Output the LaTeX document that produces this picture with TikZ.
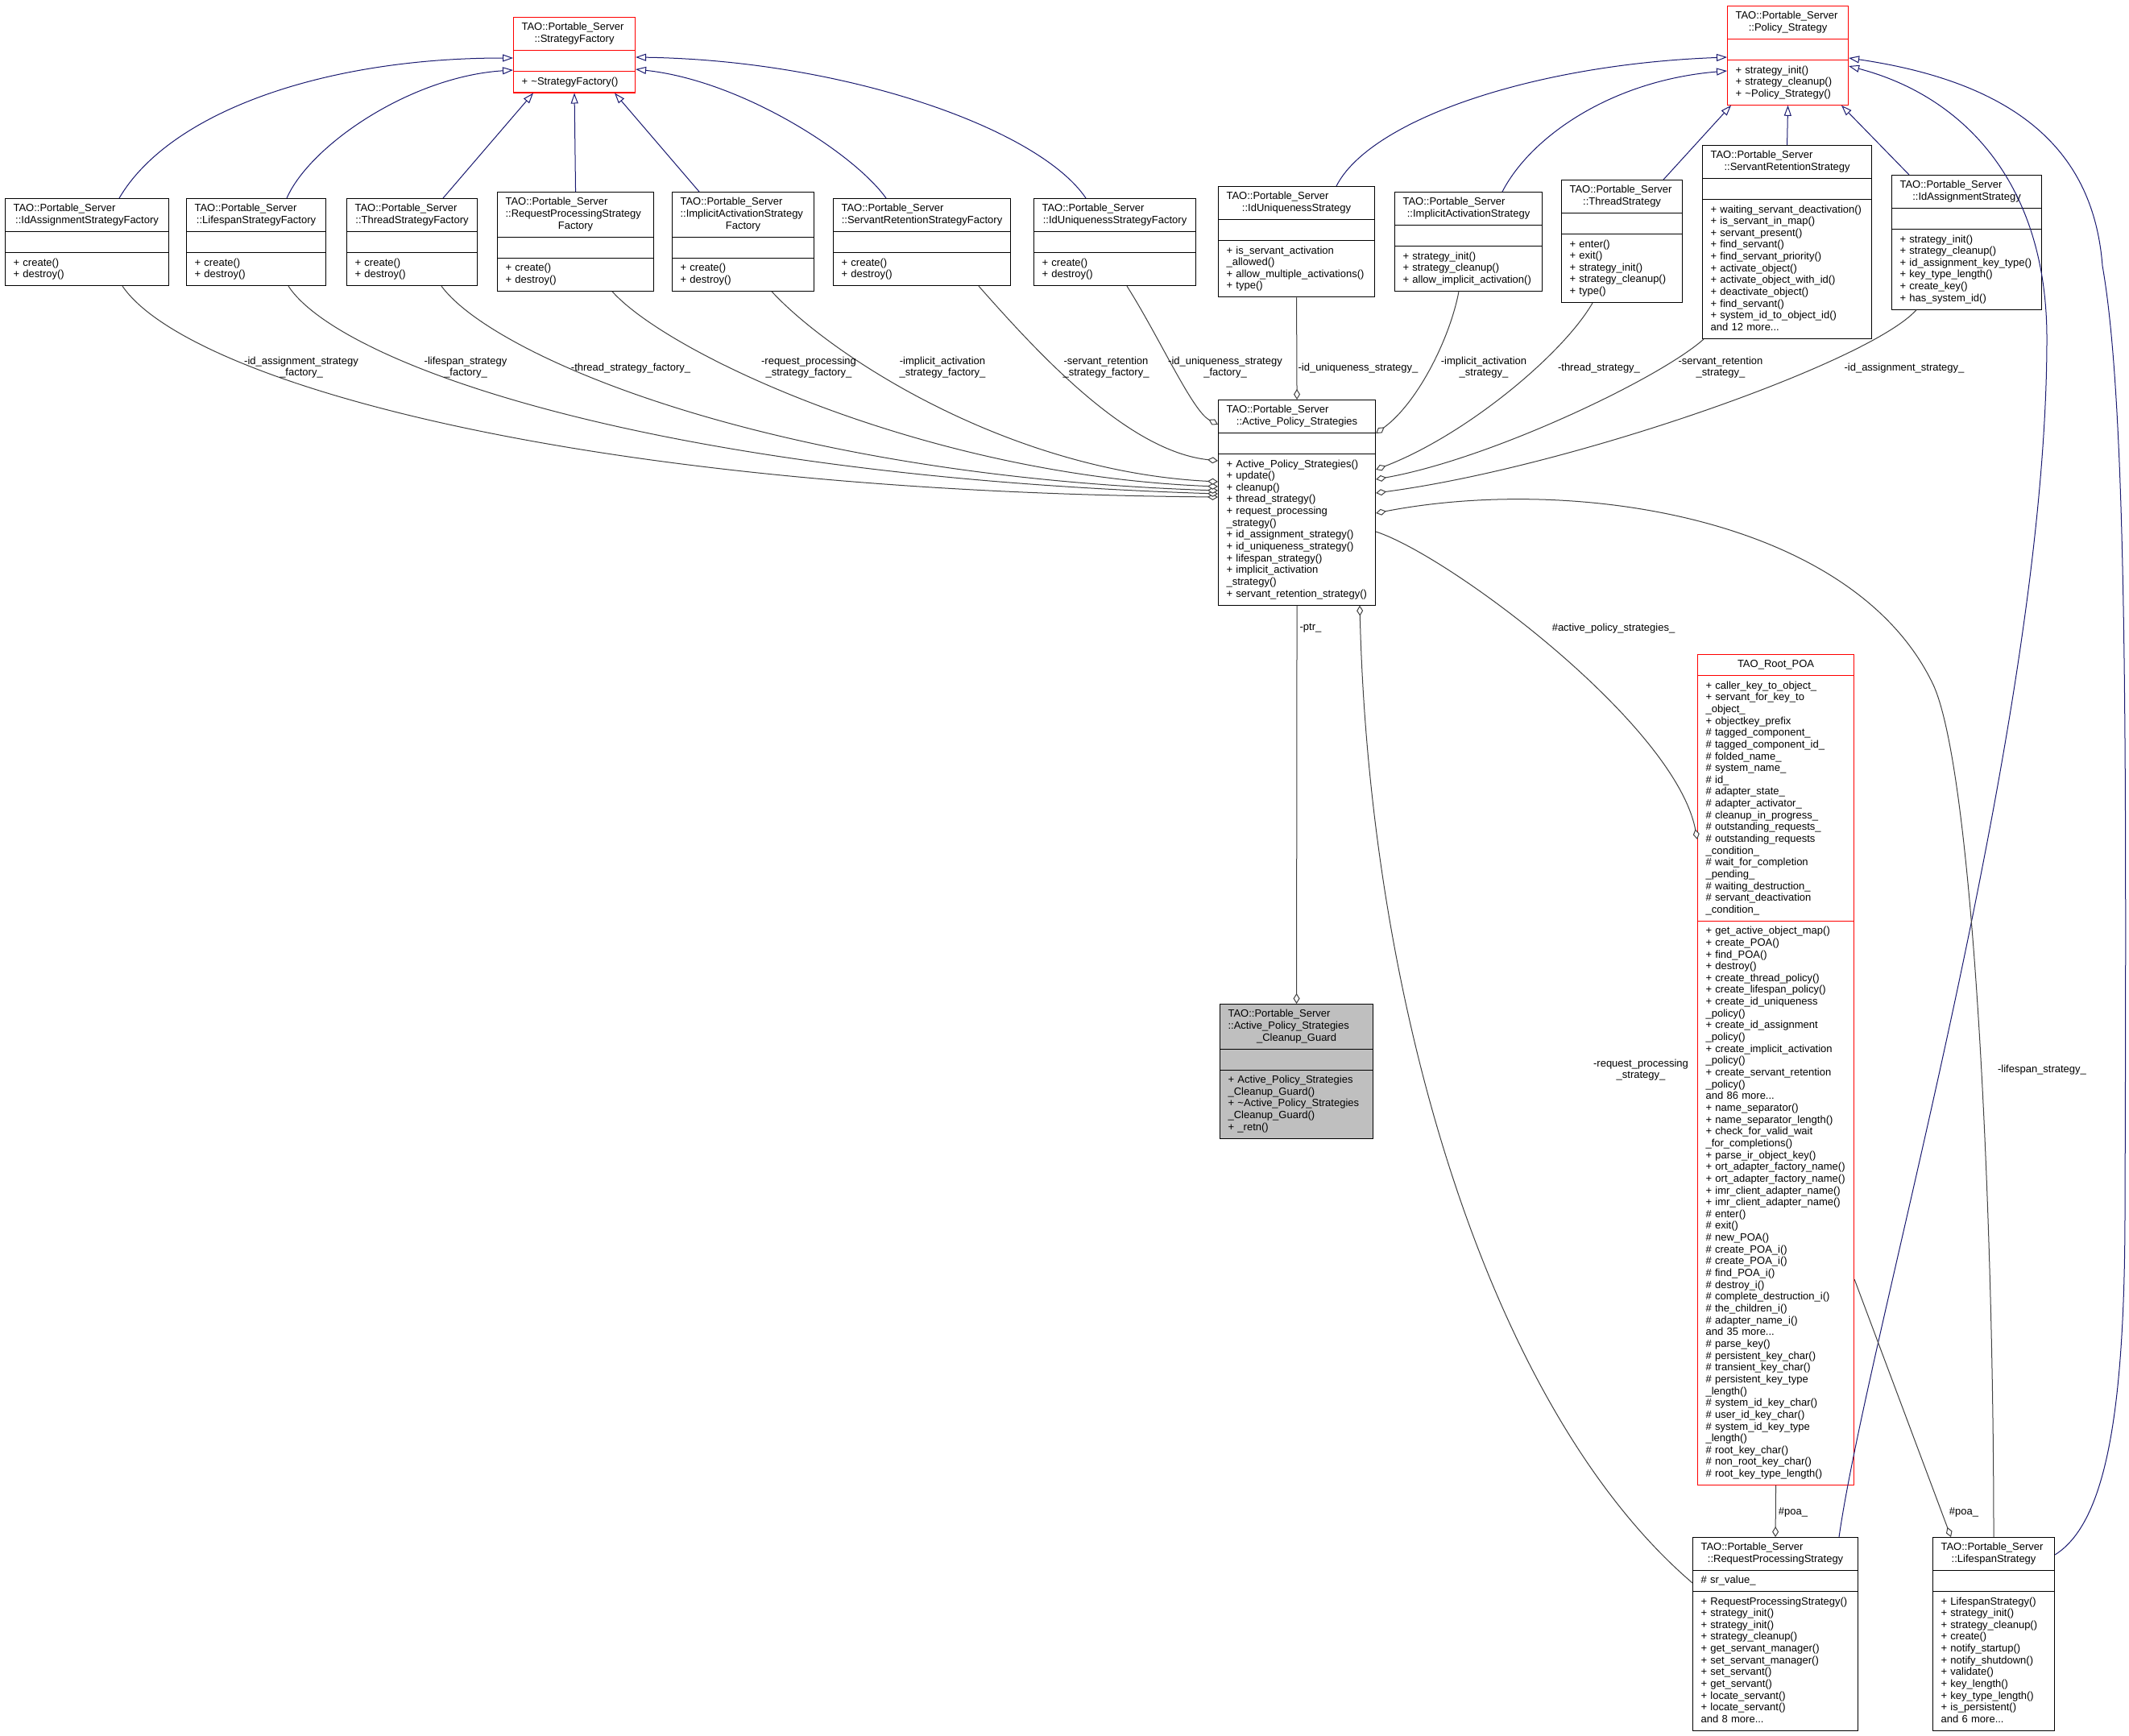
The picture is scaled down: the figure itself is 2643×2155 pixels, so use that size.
\documentclass[tikz,border=0pt]{standalone}
\usepackage{fontspec}
\setmainfont{Liberation Sans}
\usetikzlibrary{
  shapes.multipart,
  arrows.meta,
  calc,
}
\definecolor{edgegray}{HTML}{404040}
\definecolor{midblue}{HTML}{191970}
\definecolor{guardfill}{HTML}{BFBFBF}
\newcommand\clsbeg{\rightskip=0pt plus 1fil minus 100pt\relax\rule[-4.15pt]{0pt}{14.65pt}}
\newcommand\clsend{\rule[-4.15pt]{0pt}{14.65pt}}
\newcommand\lastline[1]{\hspace*{\fill}#1\hspace*{\fill}}
\tikzstyle{classbox} = [
rectangle split,
rectangle split parts=3,
draw=black,
line width=1.1pt,
inner xsep=10pt,
inner ysep=5.25pt,
align=left,
anchor=north west
]
\tikzstyle{redbox} = [classbox, draw=red]
\tikzstyle{edgelabel} = [align=center, inner sep=0pt]
\tikzstyle{inherit} = [draw=midblue, line width=1pt, -{Triangle[length=13pt,width=9pt,fill=white]}]
\tikzstyle{member} = [draw=edgegray, line width=1pt, -{Diamond[length=13pt,width=8pt,fill=white]}]

\begin{document}
\begin{tikzpicture}[x=1pt, y=-1pt, font=\fontsize{13}{14.65}\selectfont]
  \path [use as bounding box, fill=white] (0,0) rectangle (2643,2155);
  % Place nodes
  \node [redbox, text width=131pt] (sfac) at (637,21) {\clsbeg TAO::Portable\_Server\\\lastline{::StrategyFactory}\clsend
    \nodepart{two}\clsbeg\clsend
    \nodepart{three}\clsbeg + \textasciitilde StrategyFactory()\clsend};
  \node [redbox, text width=130pt] (pstrat) at (2144,7) {\clsbeg TAO::Portable\_Server\\\lastline{::Policy\_Strategy}\clsend
    \nodepart{two}\clsbeg\clsend
    \nodepart{three}\clsbeg + strategy\_init()\\+ strategy\_cleanup()\\+ \textasciitilde Policy\_Strategy()\clsend};

  \node [classbox, text width=183pt] (idafac) at (6,246) {\clsbeg TAO::Portable\_Server\\\lastline{::IdAssignmentStrategyFactory}\clsend
    \nodepart{two}\clsbeg\clsend
    \nodepart{three}\clsbeg + create()\\+ destroy()\clsend};
  \node [classbox, text width=153pt] (lsfac) at (231,246) {\clsbeg TAO::Portable\_Server\\\lastline{::LifespanStrategyFactory}\clsend
    \nodepart{two}\clsbeg\clsend
    \nodepart{three}\clsbeg + create()\\+ destroy()\clsend};
  \node [classbox, text width=142pt] (thfac) at (430,246) {\clsbeg TAO::Portable\_Server\\\lastline{::ThreadStrategyFactory}\clsend
    \nodepart{two}\clsbeg\clsend
    \nodepart{three}\clsbeg + create()\\+ destroy()\clsend};
  \node [classbox, text width=174pt] (rpfac) at (617,238) {\clsbeg TAO::Portable\_Server\\::RequestProcessingStrategy\\\lastline{Factory}\clsend
    \nodepart{two}\clsbeg\clsend
    \nodepart{three}\clsbeg + create()\\+ destroy()\clsend};
  \node [classbox, text width=156pt] (iafac) at (834,238) {\clsbeg TAO::Portable\_Server\\::ImplicitActivationStrategy\\\lastline{Factory}\clsend
    \nodepart{two}\clsbeg\clsend
    \nodepart{three}\clsbeg + create()\\+ destroy()\clsend};
  \node [classbox, text width=200pt] (srfac) at (1034,246) {\clsbeg TAO::Portable\_Server\\\lastline{::ServantRetentionStrategyFactory}\clsend
    \nodepart{two}\clsbeg\clsend
    \nodepart{three}\clsbeg + create()\\+ destroy()\clsend};
  \node [classbox, text width=181pt] (idufac) at (1283,246) {\clsbeg TAO::Portable\_Server\\\lastline{::IdUniquenessStrategyFactory}\clsend
    \nodepart{two}\clsbeg\clsend
    \nodepart{three}\clsbeg + create()\\+ destroy()\clsend};

  \node [classbox, text width=174pt] (idustrat) at (1512,231) {\clsbeg TAO::Portable\_Server\\\lastline{::IdUniquenessStrategy}\clsend
    \nodepart{two}\clsbeg\clsend
    \nodepart{three}\clsbeg + is\_servant\_activation\\\_allowed()\\+ allow\_multiple\_activations()\\+ type()\clsend};
  \node [classbox, text width=163pt] (iastrat) at (1731,238) {\clsbeg TAO::Portable\_Server\\\lastline{::ImplicitActivationStrategy}\clsend
    \nodepart{two}\clsbeg\clsend
    \nodepart{three}\clsbeg + strategy\_init()\\+ strategy\_cleanup()\\+ allow\_implicit\_activation()\clsend};
  \node [classbox, text width=130pt] (thstrat) at (1938,223) {\clsbeg TAO::Portable\_Server\\\lastline{::ThreadStrategy}\clsend
    \nodepart{two}\clsbeg\clsend
    \nodepart{three}\clsbeg + enter()\\+ exit()\\+ strategy\_init()\\+ strategy\_cleanup()\\+ type()\clsend};
  \node [classbox, text width=190pt] (srstrat) at (2113,180) {\clsbeg TAO::Portable\_Server\\\lastline{::ServantRetentionStrategy}\clsend
    \nodepart{two}\clsbeg\clsend
    \nodepart{three}\clsbeg + waiting\_servant\_deactivation()\\+ is\_servant\_in\_map()\\+ servant\_present()\\+ find\_servant()\\+ find\_servant\_priority()\\+ activate\_object()\\+ activate\_object\_with\_id()\\+ deactivate\_object()\\+ find\_servant()\\+ system\_id\_to\_object\_id()\\and 12 more...\clsend};
  \node [classbox, text width=166pt] (idastrat) at (2348,217) {\clsbeg TAO::Portable\_Server\\\lastline{::IdAssignmentStrategy}\clsend
    \nodepart{two}\clsbeg\clsend
    \nodepart{three}\clsbeg + strategy\_init()\\+ strategy\_cleanup()\\+ id\_assignment\_key\_type()\\+ key\_type\_length()\\+ create\_key()\\+ has\_system\_id()\clsend};

  \node [classbox, text width=175pt] (aps) at (1512,496) {\clsbeg TAO::Portable\_Server\\\lastline{::Active\_Policy\_Strategies}\clsend
    \nodepart{two}\clsbeg\clsend
    \nodepart{three}\clsbeg + Active\_Policy\_Strategies()\\+ update()\\+ cleanup()\\+ thread\_strategy()\\+ request\_processing\\\_strategy()\\+ id\_assignment\_strategy()\\+ id\_uniqueness\_strategy()\\+ lifespan\_strategy()\\+ implicit\_activation\\\_strategy()\\+ servant\_retention\_strategy()\clsend};
  \node [classbox, fill=guardfill, text width=170pt] (guard) at (1514,1246) {\clsbeg TAO::Portable\_Server\\::Active\_Policy\_Strategies\\\lastline{\_Cleanup\_Guard}\clsend
    \nodepart{two}\clsbeg\clsend
    \nodepart{three}\clsbeg + Active\_Policy\_Strategies\\\_Cleanup\_Guard()\\+ \textasciitilde Active\_Policy\_Strategies\\\_Cleanup\_Guard()\\+ \_retn()\clsend};

  \node [redbox, text width=174pt] (rootpoa) at (2107,812) {\clsbeg\lastline{TAO\_Root\_POA}\clsend
    \nodepart{two}\clsbeg + caller\_key\_to\_object\_\\+ servant\_for\_key\_to\\\_object\_\\+ objectkey\_prefix\\\# tagged\_component\_\\\# tagged\_component\_id\_\\\# folded\_name\_\\\# system\_name\_\\\# id\_\\\# adapter\_state\_\\\# adapter\_activator\_\\\# cleanup\_in\_progress\_\\\# outstanding\_requests\_\\\# outstanding\_requests\\\_condition\_\\\# wait\_for\_completion\\\_pending\_\\\# waiting\_destruction\_\\\# servant\_deactivation\\\_condition\_\clsend
    \nodepart{three}\clsbeg + get\_active\_object\_map()\\+ create\_POA()\\+ find\_POA()\\+ destroy()\\+ create\_thread\_policy()\\+ create\_lifespan\_policy()\\+ create\_id\_uniqueness\\\_policy()\\+ create\_id\_assignment\\\_policy()\\+ create\_implicit\_activation\\\_policy()\\+ create\_servant\_retention\\\_policy()\\and 86 more...\\+ name\_separator()\\+ name\_separator\_length()\\+ check\_for\_valid\_wait\\\_for\_completions()\\+ parse\_ir\_object\_key()\\+ ort\_adapter\_factory\_name()\\+ ort\_adapter\_factory\_name()\\+ imr\_client\_adapter\_name()\\+ imr\_client\_adapter\_name()\\\# enter()\\\# exit()\\\# new\_POA()\\\# create\_POA\_i()\\\# create\_POA\_i()\\\# find\_POA\_i()\\\# destroy\_i()\\\# complete\_destruction\_i()\\\# the\_children\_i()\\\# adapter\_name\_i()\\and 35 more...\\\# parse\_key()\\\# persistent\_key\_char()\\\# transient\_key\_char()\\\# persistent\_key\_type\\\_length()\\\# system\_id\_key\_char()\\\# user\_id\_key\_char()\\\# system\_id\_key\_type\\\_length()\\\# root\_key\_char()\\\# non\_root\_key\_char()\\\# root\_key\_type\_length()\clsend};

  \node [classbox, text width=185pt] (rps) at (2101,1908) {\clsbeg TAO::Portable\_Server\\\lastline{::RequestProcessingStrategy}\clsend
    \nodepart{two}\clsbeg\# sr\_value\_\clsend
    \nodepart{three}\clsbeg + RequestProcessingStrategy()\\+ strategy\_init()\\+ strategy\_init()\\+ strategy\_cleanup()\\+ get\_servant\_manager()\\+ set\_servant\_manager()\\+ set\_servant()\\+ get\_servant()\\+ locate\_servant()\\+ locate\_servant()\\and 8 more...\clsend};
  \node [classbox, text width=131pt] (lss) at (2399,1908) {\clsbeg TAO::Portable\_Server\\\lastline{::LifespanStrategy}\clsend
    \nodepart{two}\clsbeg\clsend
    \nodepart{three}\clsbeg + LifespanStrategy()\\+ strategy\_init()\\+ strategy\_cleanup()\\+ create()\\+ notify\_startup()\\+ notify\_shutdown()\\+ validate()\\+ key\_length()\\+ key\_type\_length()\\+ is\_persistent()\\and 6 more...\clsend};

  % Draw edges
  \path [inherit] ($(idafac.north west)+(142,0)$) .. controls (210,140) and (400,72) .. ($(sfac.north west)+(0,51)$);
  \path [inherit] ($(lsfac.north west)+(125,0)$) .. controls (385,180) and (510,95) .. ($(sfac.north west)+(0,66)$);
  \path [inherit] ($(thfac.north west)+(120,0)$) -- ($(sfac.south west)+(25,0)$);
  \path [inherit] (rpfac.north) -- (sfac.south);
  \path [inherit] ($(iafac.north west)+(34,0)$) -- ($(sfac.south west)+(126,0)$);
  \path [inherit] ($(srfac.north west)+(66,0)$) .. controls (1060,190) and (920,100) .. ($(sfac.north east)+(0,65)$);
  \path [inherit] ($(idufac.north west)+(65,0)$) .. controls (1290,160) and (1050,75) .. ($(sfac.north east)+(0,50)$);

  \path [inherit] ($(idustrat.north west)+(147,0)$) .. controls (1700,150) and (1900,80) .. ($(pstrat.north west)+(0,64)$);
  \path [inherit] ($(iastrat.north west)+(134,0)$) .. controls (1900,170) and (2000,100) .. ($(pstrat.north west)+(0,81)$);
  \path [inherit] ($(thstrat.north west)+(127,0)$) -- ($(pstrat.south west)+(5,0)$);
  \path [inherit] (srstrat.north) -- (pstrat.south);
  \path [inherit] ($(idastrat.north west)+(22,0)$) -- ($(pstrat.south west)+(142,0)$);
  \path [inherit] ($(rps.north west)+(182,0)$) .. controls (2320,1650) and (2541,900) .. (2541,420)
    .. controls (2541,230) and (2440,120) .. ($(pstrat.north east)+(0,75)$);
  \path [inherit] ($(lss.north east)+(0,22)$) .. controls (2615,1890) and (2638,1750) .. (2638,1500)
    .. controls (2640,900) and (2640,500) .. (2610,330)
    .. controls (2600,200) and (2520,105) .. ($(pstrat.north east)+(0,65)$);

  \path [member] ($(idafac.south west)+(146,0)$) .. controls (230,470) and (700,610) .. ($(aps.north west)+(0,121)$);
  \path [member] ($(lsfac.south west)+(127,0)$) .. controls (420,450) and (800,590) .. ($(aps.north west)+(0,117)$);
  \path [member] ($(thfac.south west)+(118,0)$) .. controls (610,440) and (950,590) .. ($(aps.north west)+(0,113)$);
  \path [member] ($(rpfac.south west)+(143,0)$) .. controls (830,440) and (1150,590) .. ($(aps.north west)+(0,108)$);
  \path [member] ($(iafac.south west)+(124,0)$) .. controls (1030,440) and (1250,585) .. ($(aps.north west)+(0,102)$);
  \path [member] ($(srfac.south west)+(181,0)$) .. controls (1290,440) and (1400,560) .. ($(aps.north west)+(0,76)$);
  \path [member] ($(idufac.south west)+(116,0)$) .. controls (1440,420) and (1480,510) .. ($(aps.north west)+(0,31)$);

  \path [member] (idustrat.south) -- (aps.north);
  \path [member] ($(iastrat.south west)+(80,0)$) .. controls (1800,420) and (1760,500) .. ($(aps.north east)+(0,42)$);
  \path [member] ($(thstrat.south west)+(39,0)$) .. controls (1940,440) and (1820,540) .. ($(aps.north east)+(0,87)$);
  \path [member] ($(srstrat.south west)+(2,0)$) .. controls (2060,470) and (1850,570) .. ($(aps.north east)+(0,99)$);
  \path [member] ($(idastrat.south west)+(31,0)$) .. controls (2320,450) and (1950,580) .. ($(aps.north east)+(0,116)$);
  \path [member] ($(lss.north west)+(76,0)$) .. controls (2475,1500) and (2450,960) .. (2400,850)
    .. controls (2300,640) and (1950,590) .. ($(aps.north east)+(0,141)$);
  \path [member] ($(aps.north east)+(0,164)$) .. controls (1800,690) and (2080,900) .. ($(rootpoa.north west)+(0,230)$);
  \path [member] ($(rps.north west)+(0,57)$) .. controls (1850,1750) and (1700,1250) .. ($(aps.south west)+(176,0)$);
  \path [member] (aps.south) -- (guard.north);
  \path [member] (rootpoa.south) -- (rps.north);
  \path [member] ($(rootpoa.north east)+(0,776)$) -- ($(lss.north west)+(23,0)$);

  % Edge labels
  \node [edgelabel] (lblidafac) at (374,456) {-id\_assignment\_strategy\\\_factory\_};
  \node [edgelabel] (lbllsfac) at (578,456) {-lifespan\_strategy\\\_factory\_};
  \node [edgelabel] (lblthfac) at (783,457) {-thread\_strategy\_factory\_};
  \node [edgelabel] (lblrpfac) at (1004,456) {-request\_processing\\\_strategy\_factory\_};
  \node [edgelabel] (lbliafac) at (1170,456) {-implicit\_activation\\\_strategy\_factory\_};
  \node [edgelabel] (lblsrfac) at (1373,456) {-servant\_retention\\\_strategy\_factory\_};
  \node [edgelabel] (lblidufac) at (1521,456) {-id\_uniqueness\_strategy\\\_factory\_};
  \node [edgelabel] (lblidustrat) at (1686,457) {-id\_uniqueness\_strategy\_};
  \node [edgelabel] (lbliastrat) at (1842,456) {-implicit\_activation\\\_strategy\_};
  \node [edgelabel] (lblthstrat) at (1985,457) {-thread\_strategy\_};
  \node [edgelabel] (lblsrstrat) at (2136,456) {-servant\_retention\\\_strategy\_};
  \node [edgelabel] (lblidastrat) at (2364,457) {-id\_assignment\_strategy\_};
  \node [edgelabel] (lblptr) at (1627,780) {-ptr\_};
  \node [edgelabel] (lblactive) at (2003,780) {\#active\_policy\_strategies\_};
  \node [edgelabel] (lblrpstrat) at (2037,1328) {-request\_processing\\\_strategy\_};
  \node [edgelabel] (lbllsstrat) at (2535,1328) {-lifespan\_strategy\_};
  \node [edgelabel] (lblpoarps) at (2226,1877) {\#poa\_};
  \node [edgelabel] (lblpoalss) at (2438,1877) {\#poa\_};
\end{tikzpicture}
\end{document}
